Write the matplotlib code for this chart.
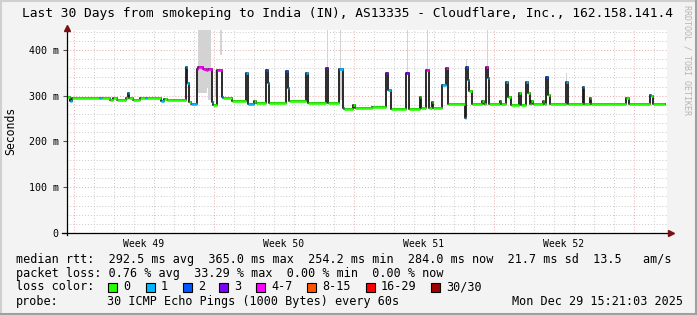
import matplotlib
matplotlib.use("Agg")
import matplotlib.pyplot as plt
from matplotlib.lines import Line2D
from matplotlib.patches import Rectangle

# median rtt as a step series: day since start, rtt in ms, loss bucket index
days = [0.00, 0.15, 0.25, 1.60, 1.75, 2.15, 2.30, 2.50, 2.95, 3.05, 3.12, 3.30, 3.65, 3.90, 4.00,
        4.70, 4.85, 5.00, 5.95, 6.02, 6.10, 6.20, 6.48, 6.55, 6.80, 6.95, 7.05, 7.23, 7.28, 7.48,
        7.75, 7.80, 8.25, 8.95, 9.05, 9.35, 9.45, 9.95, 10.03, 10.10, 10.95, 11.03, 11.10, 11.95,
        12.05, 12.95, 13.05, 13.62, 13.78, 13.85, 14.30, 14.40, 15.25, 15.95, 16.05, 16.20, 16.95,
        17.08, 17.63, 17.68, 17.95, 18.08, 18.23, 18.30, 18.73, 18.95, 19.05, 19.90, 19.97, 20.03,
        20.10, 20.25, 20.77, 20.85, 20.97, 21.05, 21.12, 21.63, 21.70, 21.97, 22.05, 22.20, 22.60,
        22.68, 22.97, 23.05, 23.15, 23.22, 23.28, 23.78, 23.85, 23.97, 24.07, 24.15, 24.97, 25.05,
        25.78, 25.85, 26.13, 26.18, 27.97, 28.10, 29.13, 29.22, 29.30, 29.90]
rtt = [297, 289, 294, 296, 294, 291, 295, 291, 294, 307, 295, 291, 295, 296, 294,
       289, 293, 291, 362, 328, 287, 283, 358, 362, 359, 356, 358, 287, 280, 356,
       298, 294, 289, 349, 283, 289, 284, 356, 328, 284, 353, 317, 288, 350,
       285, 361, 285, 358, 273, 272, 280, 273, 276, 349, 312, 272, 349,
       272, 298, 274, 356, 274, 287, 274, 323, 360, 282, 251, 363, 334,
       310, 283, 289, 283, 363, 339, 283, 289, 283, 331, 298, 280, 305,
       280, 331, 305, 283, 289, 283, 289, 283, 342, 302, 283, 329, 283,
       320, 283, 294, 283, 294, 283, 302, 299, 283, 283]
loss = [0, 1, 0, 1, 0, 0, 0, 0, 0, 1, 0, 0, 0, 1, 0,
        1, 0, 0, 1, 1, 0, 1, 4, 4, 4, 4, 4, 1, 0, 4,
        1, 0, 0, 1, 1, 0, 0, 2, 1, 0, 2, 1, 0, 1,
        0, 3, 0, 1, 1, 0, 0, 0, 0, 3, 1, 0, 3,
        0, 0, 0, 4, 0, 0, 0, 1, 4, 0, 1, 2, 1,
        0, 0, 0, 0, 4, 1, 0, 0, 0, 1, 0, 0, 0,
        0, 1, 0, 0, 0, 0, 0, 0, 2, 0, 0, 1, 0,
        1, 0, 0, 0, 0, 0, 1, 0, 0, 0]

# smoke (ping spread) boxes
smoke_start = [0.00, 6.57, 6.98, 7.07, 7.40, 7.65, 13.02, 13.62, 13.67, 17.02, 18.00, 19.95, 21.00, 24.95]
smoke_end = [0.06, 6.98, 7.07, 7.18, 7.48, 7.73, 13.07, 13.78, 13.72, 17.07, 18.05, 20.00, 21.05, 25.00]
smoke_lo = [297, 306, 317, 291, 298, 390, 361, 290, 358, 349, 356, 363, 363, 329]
smoke_hi = [306, 443, 443, 443, 356, 443, 443, 358, 443, 443, 443, 380, 443, 350]

loss_labels = ["0", "1", "2", "3", "4-7", "8-15", "16-29", "30/30"]
loss_colors = ["#26ff00", "#00b8ff", "#0059ff", "#7e00ff", "#ff00ff", "#ff5500", "#ff0000", "#a10000"]

week_labels = ["Week 49", "Week 50", "Week 51", "Week 52"]
y_ticks = [0, 100, 200, 300, 400]
y_labels = ["0", "100 m", "200 m", "300 m", "400 m"]

W, H = 697, 315
mono = "DejaVu Sans Mono"


def fx(x):
    return x / W


def fy(y):
    return 1 - y / H


fig = plt.figure(figsize=(W / 100, H / 100), dpi=100)
fig.patch.set_facecolor("#f3f3f3")

# 3d frame
fig.add_artist(Line2D([0, 1], [fy(1), fy(1)], color="#d0d0d0", lw=1.5))
fig.add_artist(Line2D([fx(1), fx(1)], [0, 1], color="#d0d0d0", lw=1.5))
fig.add_artist(Line2D([0, 1], [fy(313.5), fy(313.5)], color="#a0a0a0", lw=2.2))
fig.add_artist(Line2D([fx(695.5), fx(695.5)], [0, 1], color="#a0a0a0", lw=2.2))

ax = fig.add_axes([fx(67), fy(233), 600 / W, (233 - 30.3) / H])
ax.set_facecolor("white")
ax.set_xlim(0, 30)
ax.set_ylim(0, 443)
for s in ax.spines.values():
    s.set_visible(False)

# grid
for v in range(20, 443, 20):
    if v % 100 == 0:
        ax.axhline(v, color="#e8a8a8", lw=0.7, ls=(0, (1, 2)), zorder=1)
    else:
        ax.axhline(v, color="#cacaca", lw=0.7, ls=(0, (1, 2)), zorder=1)
for k in range(30):
    d = 0.33 + k
    if k % 7 == 0:
        ax.axvline(d, color="#e8a8a8", lw=0.7, ls=(0, (1, 2)), zorder=1)
    else:
        ax.axvline(d, color="#cacaca", lw=0.7, ls=(0, (1, 2)), zorder=1)

# smoke
for a, b, lo, hi in zip(smoke_start, smoke_end, smoke_lo, smoke_hi):
    ax.bar(a, hi - lo, width=b - a, bottom=lo, align="edge", color="#d3d3d3", lw=0, zorder=2)

# median line
ax.step(days, rtt, where="post", color="#1a1a1a", lw=1.3, zorder=3)
ax.hlines(rtt[:-1], days[:-1], days[1:], colors=[loss_colors[i] for i in loss[:-1]], lw=1.9, zorder=4)

ax.set_yticks(y_ticks)
ax.set_yticklabels(y_labels, fontfamily=mono, fontsize=7.2)
ax.set_xticks([0.33 + 3.5 + 7 * k for k in range(4)])
ax.set_xticklabels(week_labels, fontfamily=mono, fontsize=7)
ax.tick_params(axis="y", length=3, width=0.8, color="#555555", pad=3)
ax.tick_params(axis="x", length=0, pad=4)

# axes with arrows
fig.add_artist(Line2D([fx(67), fx(67)], [fy(235), fy(29)], color="black", lw=0.9))
fig.add_artist(Line2D([fx(62), fx(669)], [fy(233), fy(233)], color="black", lw=0.9))
fig.add_artist(Line2D([fx(67)], [fy(28)], marker="^", color="#7a1010", markersize=4.5, lw=0))
fig.add_artist(Line2D([fx(671)], [fy(233)], marker=">", color="#7a1010", markersize=4.5, lw=0))

fig.text(fx(347.5), fy(13), "Last 30 Days from smokeping to India (IN), AS13335 - Cloudflare, Inc., 162.158.141.4",
         fontfamily=mono, fontsize=9.3, ha="center", va="center")
fig.text(fx(11), fy(131), "Seconds", fontfamily=mono, fontsize=8.3, rotation=90, ha="center", va="center")
fig.text(fx(687), fy(60), "RRDTOOL / TOBI OETIKER", fontfamily=mono, fontsize=6, rotation=270,
         ha="center", va="center", color="#b5b5b5")

fs = 8.5
fig.text(fx(16), fy(259), "median rtt:  292.5 ms avg  365.0 ms max  254.2 ms min  284.0 ms now  21.7 ms sd  13.5   am/s",
         fontfamily=mono, fontsize=fs, va="center")
fig.text(fx(16), fy(273), "packet loss: 0.76 % avg  33.29 % max  0.00 % min  0.00 % now",
         fontfamily=mono, fontsize=fs, va="center")
fig.text(fx(16), fy(287), "loss color:", fontfamily=mono, fontsize=fs, va="center")
box_x = [108, 145.7, 182.7, 219.3, 256, 307.3, 365.7, 430.7]
for bx, lab, col in zip(box_x, loss_labels, loss_colors):
    fig.add_artist(Rectangle((fx(bx), fy(291.5)), 9 / W, 9 / H, transform=fig.transFigure,
                             facecolor=col, edgecolor="black", lw=0.8))
    fig.text(fx(bx + 15), fy(287), lab, fontfamily=mono, fontsize=fs, va="center")
fig.text(fx(16), fy(301.5), "probe:", fontfamily=mono, fontsize=fs, va="center")
fig.text(fx(107), fy(301.5), "30 ICMP Echo Pings (1000 Bytes) every 60s", fontfamily=mono, fontsize=fs, va="center")
fig.text(fx(512.5), fy(301.5), "Mon Dec 29 15:21:03 2025", fontfamily=mono, fontsize=fs, va="center")

fig.savefig("out.png", dpi=100, facecolor=fig.get_facecolor())
